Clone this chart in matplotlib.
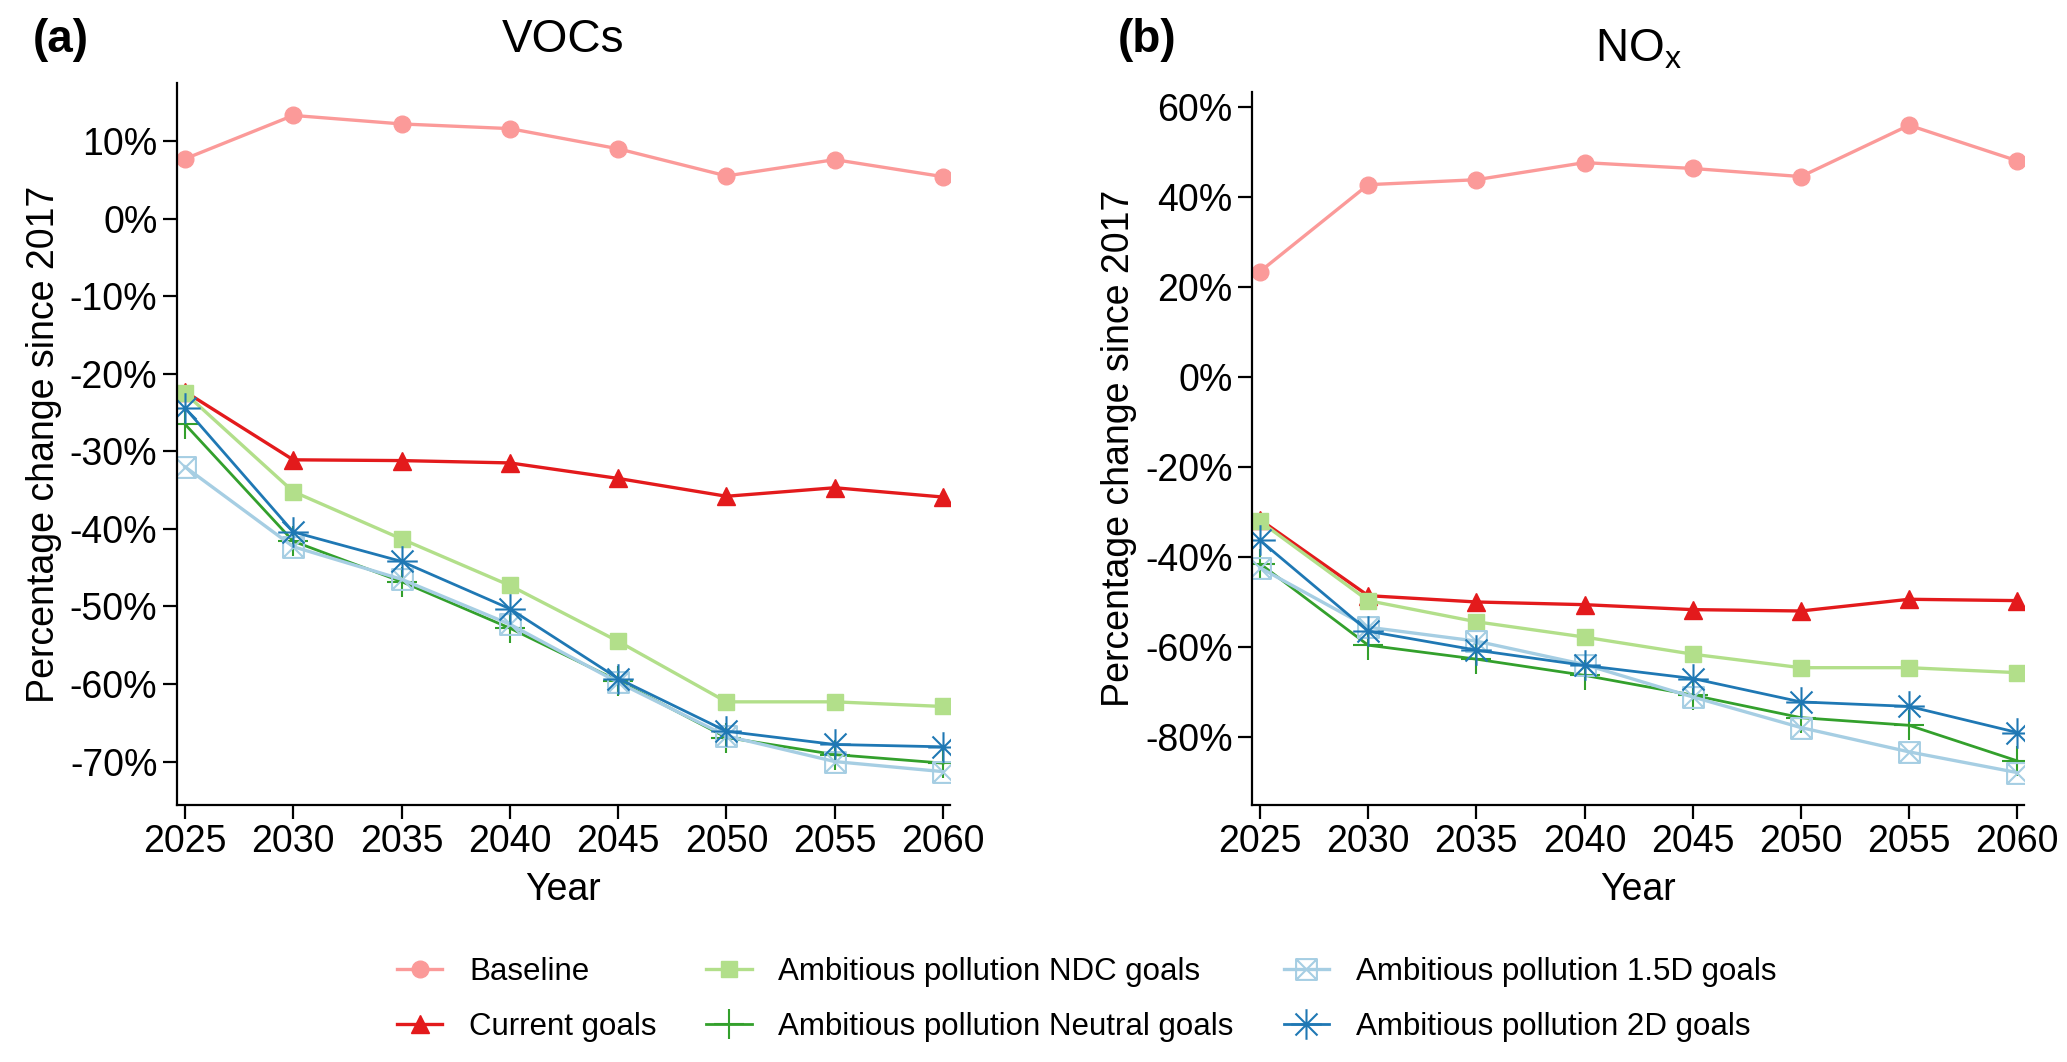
import matplotlib
matplotlib.use("Agg")
from matplotlib import pyplot as plt
from matplotlib.path import Path
from matplotlib.ticker import FuncFormatter
import numpy as np

years = [2025, 2030, 2035, 2040, 2045, 2050, 2055, 2060]

scenarios = ["Baseline", "Current goals", "Ambitious pollution NDC goals",
             "Ambitious pollution Neutral goals",
             "Ambitious pollution 1.5D goals", "Ambitious pollution 2D goals"]

# VOCs, percentage change since 2017
voc_baseline = [7.7, 13.3, 12.2, 11.6, 9.0, 5.5, 7.6, 5.4]
voc_current = [-22.3, -31.1, -31.2, -31.5, -33.5, -35.8, -34.7, -35.9]
voc_ndc = [-22.5, -35.2, -41.3, -47.3, -54.5, -62.3, -62.3, -62.9]
voc_neutral = [-26.5, -41.6, -46.8, -52.8, -59.6, -66.9, -69.1, -70.2]
voc_15d = [-32.0, -42.3, -46.5, -52.3, -59.8, -66.7, -70.0, -71.3]
voc_2d = [-24.4, -40.4, -44.2, -50.3, -59.3, -66.1, -67.8, -68.1]

# NOx, percentage change since 2017
nox_baseline = [23.5, 42.8, 43.9, 47.7, 46.4, 44.6, 56.0, 48.1]
nox_current = [-31.6, -48.5, -49.9, -50.5, -51.6, -51.9, -49.3, -49.6]
nox_ndc = [-32.0, -49.6, -54.3, -57.7, -61.5, -64.5, -64.5, -65.6]
nox_neutral = [-41.4, -59.5, -62.6, -66.2, -70.6, -75.6, -77.3, -85.2]
nox_15d = [-42.3, -55.5, -58.6, -63.8, -71.0, -77.8, -83.2, -87.8]
nox_2d = [-36.2, -56.4, -60.6, -64.0, -66.9, -72.1, -73.1, -78.9]

plt.rcParams["font.family"] = ["Liberation Sans", "DejaVu Sans"]
plt.rcParams["mathtext.fontset"] = "custom"
plt.rcParams["mathtext.rm"] = "Liberation Sans"

# R-like pch 7 (square with x) and pch 8 (asterisk)
box_x = Path([(-1, -1), (1, -1), (1, 1), (-1, 1), (-1, -1),
              (-1, -1), (1, 1), (-1, 1), (1, -1)],
             [Path.MOVETO, Path.LINETO, Path.LINETO, Path.LINETO, Path.CLOSEPOLY,
              Path.MOVETO, Path.LINETO, Path.MOVETO, Path.LINETO])
d = 0.72
asterisk = Path([(-1, 0), (1, 0), (0, -1), (0, 1),
                 (-d, -d), (d, d), (-d, d), (d, -d)],
                [Path.MOVETO, Path.LINETO] * 4)

styles = [
    dict(color="#FB9A99", marker="o", ms=12, lw=2.4),
    dict(color="#E31A1C", marker="^", ms=13, lw=2.4),
    dict(color="#B2DF8A", marker="s", ms=11, lw=2.4),
    dict(color="#33A02C", marker="+", ms=22, mew=1.5, lw=2.0),
    dict(color="#A6CEE3", marker=box_x, ms=15, mew=1.5, mfc="none", lw=2.4),
    dict(color="#1F78B4", marker=asterisk, ms=22, mew=1.5, mfc="none", lw=2.0),
]

fig = plt.figure(figsize=(20.67, 10.62), dpi=100)
ax_voc = fig.add_axes([0.0856, 0.242, 0.374, 0.680])
ax_nox = fig.add_axes([0.6057, 0.242, 0.3736, 0.671])

panels = [
    (ax_voc, [voc_baseline, voc_current, voc_ndc, voc_neutral, voc_15d, voc_2d],
     "VOCs", (-75.6, 17.5), np.arange(-70, 11, 10)),
    (ax_nox, [nox_baseline, nox_current, nox_ndc, nox_neutral, nox_15d, nox_2d],
     r"$\mathregular{NO_x}$", (-95.0, 63.3), np.arange(-80, 61, 20)),
]

handles = []
for ax, series, title, ylim, yticks in panels:
    handles = []
    for name, values, st in zip(scenarios, series, styles):
        h, = ax.plot(years, values, label=name, **st)
        handles.append(h)
    ax.set_xlim(2024.63, 2060.32)
    ax.set_ylim(*ylim)
    ax.set_xticks(years)
    ax.set_yticks(yticks)
    ax.yaxis.set_major_formatter(FuncFormatter(lambda v, p: f"{v:.0f}%"))
    ax.spines["top"].set_visible(False)
    ax.spines["right"].set_visible(False)
    for s in ("left", "bottom"):
        ax.spines[s].set_linewidth(1.6)
    ax.tick_params(labelsize=27, length=10, width=1.6, pad=4)
    ax.set_xlabel("Year", fontsize=27, labelpad=8)
    ax.set_ylabel("Percentage change since 2017", fontsize=27, labelpad=6)
    ax.set_title(title, fontsize=33, pad=22)

fig.text(0.016, 0.962, "(a)", fontsize=33, fontweight="bold", va="center")
fig.text(0.541, 0.962, "(b)", fontsize=33, fontweight="bold", va="center")

fig.legend(handles, scenarios,
           loc="center left", bbox_to_anchor=(0.1921, 0.0585), ncol=3,
           frameon=False, fontsize=22.5, handlelength=1.45, handletextpad=0.85,
           columnspacing=1.6, labelspacing=0.8, borderpad=0,
           borderaxespad=0)

fig.savefig("out.png", dpi=100)
